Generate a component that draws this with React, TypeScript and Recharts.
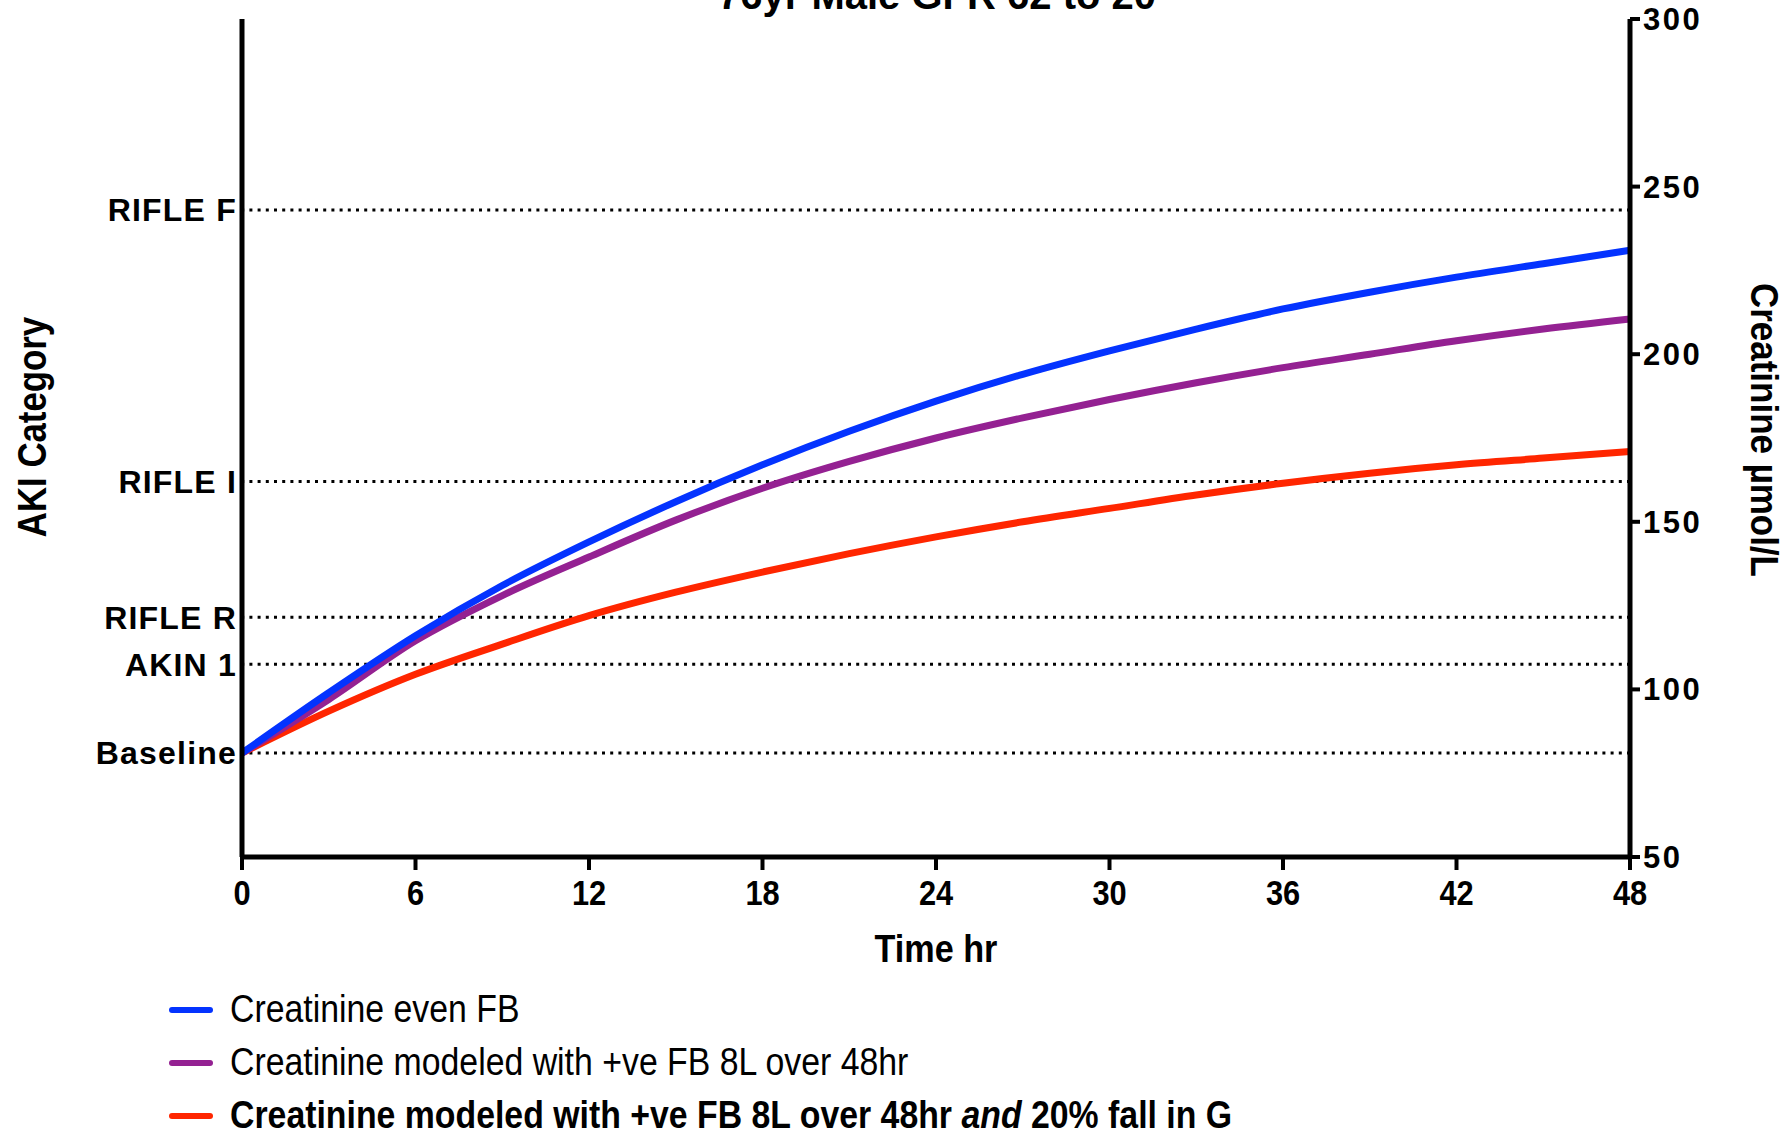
import { Customized, Legend, Line, LineChart, ReferenceLine, XAxis, YAxis } from 'recharts';

// Creatinine (umol/L) sampled every 3 hours over 48 hr
const hours = [0, 3, 6, 9, 12, 15, 18, 21, 24, 27, 30, 33, 36, 39, 42, 45, 48];
const evenFB = [81, 99, 116, 131, 144, 156, 167, 177, 186, 194, 201, 207.5, 213.5, 218.5, 223, 227, 231];
const fb8L = [81, 97, 114.5, 128, 139.5, 150.5, 160, 168, 175, 181, 186.5, 191.5, 196, 200, 204, 207.5, 210.5];
const fb8LFallG = [81, 93.5, 104.5, 113.5, 122, 129, 135, 140.5, 145.5, 150, 154, 158, 161.5, 164.5, 167, 169, 171];

// AKI thresholds relative to baseline 81
const akiNames = ['Baseline', 'AKIN 1', 'RIFLE R', 'RIFLE I', 'RIFLE F'];
const akiLevels = [81, 107.5, 121.5, 162, 243];

const timeTicks = [0, 6, 12, 18, 24, 30, 36, 42, 48];
const creatTicks = [50, 100, 150, 200, 250, 300];

// both y axes share the 50-300 range, so a series can sit on either one
const series = [
  { key: 'fb8LFallG', name: 'Creatinine modeled with +ve FB 8L over 48hr and 20% fall in G', color: '#FF2600', bold: true, axis: 'right' },
  { key: 'fb8L', name: 'Creatinine modeled with +ve FB 8L over 48hr', color: '#942192', bold: false, axis: 'right' },
  { key: 'evenFB', name: 'Creatinine even FB', color: '#0433FF', bold: false, axis: 'left' },
];
const legendOrder = ['evenFB', 'fb8L', 'fb8LFallG'];

const data = hours.map((h, i) => ({
  hour: h,
  evenFB: evenFB[i],
  fb8L: fb8L[i],
  fb8LFallG: fb8LFallG[i],
}));

const FONT = "'Liberation Sans', Arial, sans-serif";

// Liberation has no narrow cut here, so squeeze it horizontally
const NarrowText = ({ x, y, sx = 0.88, angle = 0, children, ...rest }: any) => (
  <g transform={`translate(${x} ${y}) rotate(${angle}) scale(${sx} 1)`}>
    <text x={0} y={0} fontFamily={FONT} fill="#000" {...rest}>
      {children}
    </text>
  </g>
);

const TimeTick = ({ x, y, payload }: any) => (
  <NarrowText x={x} y={y} textAnchor="middle" dy="0.71em" fontWeight="bold" fontSize={35}>
    {payload.value}
  </NarrowText>
);

const Title = () => (
  <text x={937} y={9} textAnchor="middle" fontFamily={FONT} fontWeight="bold" fontSize={40} fill="#000">
    76yr Male GFR 62 to 20
  </text>
);

const LegendBox = () => (
  <div style={{ fontFamily: FONT, color: '#000' }}>
    {legendOrder.map((k) => {
      const s = series.find((x) => x.key === k)!;
      const parts = s.name.split(' and ');
      return (
        <div key={k} style={{ display: 'flex', alignItems: 'center', height: 53, whiteSpace: 'nowrap' }}>
          <div style={{ width: 44, height: 6, borderRadius: 3, background: s.color, marginRight: 17, flex: 'none' }} />
          <span
            style={{
              display: 'inline-block',
              fontSize: 38,
              fontWeight: s.bold ? 'bold' : 'normal',
              transform: 'scaleX(0.89)',
              transformOrigin: 'left center',
            }}
          >
            {parts.length > 1 ? (
              <>
                {parts[0]} <i>and</i> {parts[1]}
              </>
            ) : (
              s.name
            )}
          </span>
        </div>
      );
    })}
  </div>
);

const App = () => {
  return (
    <div style={{ position: 'absolute', left: 0, top: 0, width: 1787, height: 1139, overflow: 'hidden', background: '#fff' }}>
      <LineChart width={1787} height={1139} data={data} margin={{ top: 19, right: 0, bottom: 0, left: 0 }}>
        <XAxis
          dataKey="hour"
          type="number"
          domain={[0, 48]}
          ticks={timeTicks}
          interval={0}
          height={282}
          axisLine={{ stroke: '#000', strokeWidth: 5 }}
          tickLine={{ stroke: '#000', strokeWidth: 4 }}
          tickSize={13}
          tickMargin={10}
          tick={<TimeTick />}
          label={({ viewBox }: any) => (
            <NarrowText
              x={viewBox.x + viewBox.width / 2}
              y={viewBox.y + 92}
              sx={0.9}
              textAnchor="middle"
              dominantBaseline="central"
              fontWeight="bold"
              fontSize={38}
            >
              Time hr
            </NarrowText>
          )}
        />
        <YAxis
          yAxisId="left"
          type="number"
          domain={[50, 300]}
          allowDataOverflow
          ticks={akiLevels}
          interval={0}
          width={242}
          axisLine={{ stroke: '#000', strokeWidth: 5 }}
          tickLine={false}
          tickSize={0}
          tickMargin={5}
          tickFormatter={(v: number) => akiNames[akiLevels.indexOf(v)] ?? ''}
          tick={{ fill: '#000', fontFamily: FONT, fontWeight: 'bold', fontSize: 32, letterSpacing: 1.2 }}
          label={({ viewBox }: any) => (
            <NarrowText
              x={viewBox.x + 32}
              y={viewBox.y + 408}
              angle={-90}
              sx={0.87}
              textAnchor="middle"
              dominantBaseline="central"
              fontWeight="bold"
              fontSize={40}
            >
              AKI Category
            </NarrowText>
          )}
        />
        <YAxis
          yAxisId="right"
          type="number"
          orientation="right"
          domain={[50, 300]}
          allowDataOverflow
          ticks={creatTicks}
          interval={0}
          width={157}
          axisLine={{ stroke: '#000', strokeWidth: 5 }}
          tickLine={{ stroke: '#000', strokeWidth: 4 }}
          tickSize={10}
          tickMargin={3}
          tick={{ fill: '#000', fontFamily: FONT, fontWeight: 'bold', fontSize: 31, letterSpacing: 2.5 }}
          label={({ viewBox }: any) => (
            <NarrowText
              x={viewBox.x + 134}
              y={viewBox.y + 411}
              angle={90}
              sx={0.92}
              textAnchor="middle"
              dominantBaseline="central"
              fontWeight="bold"
              fontSize={38}
            >
              Creatinine µmol/L
            </NarrowText>
          )}
        />
        {akiLevels.map((lvl) => (
          <ReferenceLine
            key={lvl}
            yAxisId="right"
            y={lvl}
            stroke="#000"
            strokeWidth={3}
            strokeDasharray="3 5.2"
          />
        ))}
        {series.map((s) => (
          <Line
            key={s.key}
            yAxisId={s.axis}
            type="monotone"
            dataKey={s.key}
            name={s.name}
            stroke={s.color}
            strokeWidth={7}
            dot={false}
            activeDot={false}
            isAnimationActive={false}
          />
        ))}
        <Legend
          layout="horizontal"
          verticalAlign="middle"
          align="center"
          content={() => <LegendBox />}
          wrapperStyle={{ left: 169, top: 983, width: 1300, height: 160 }}
        />
        <Customized component={<Title />} />
      </LineChart>
    </div>
  );
};

export default App;
